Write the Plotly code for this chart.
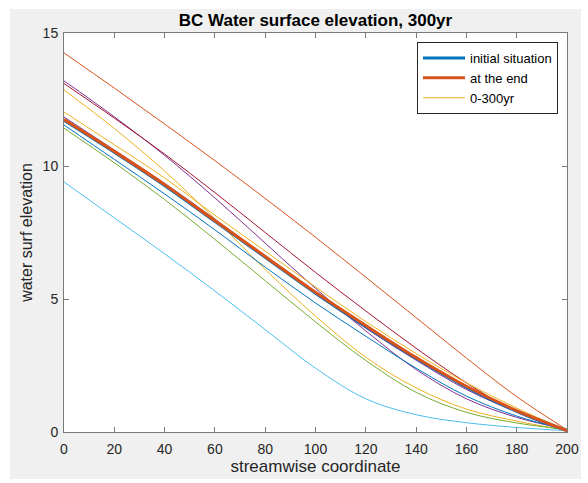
import plotly.graph_objects as go

# streamwise stations
x = [0, 20, 40, 60, 80, 100, 120, 140, 160, 180, 200]

# water surface elevation profiles
initial_situation = [11.72, 10.52, 9.27, 7.92, 6.57, 5.22, 3.97, 2.77, 1.69, 0.78, 0.05]
at_the_end = [11.75, 10.55, 9.30, 7.95, 6.60, 5.25, 4.00, 2.80, 1.72, 0.80, 0.05]

# intermediate profiles, 0-300yr
p_yellow_a = [12.86, 11.41, 9.81, 8.01, 6.11, 4.36, 2.81, 1.66, 0.86, 0.41, 0.06]
p_purple_a = [13.20, 11.85, 10.40, 8.80, 7.10, 5.40, 3.80, 2.35, 1.25, 0.55, 0.10]
p_green = [11.42, 10.12, 8.74, 7.24, 5.69, 4.14, 2.69, 1.49, 0.74, 0.34, 0.09]
p_cyan = [9.40, 8.05, 6.70, 5.30, 3.85, 2.40, 1.25, 0.65, 0.35, 0.17, 0.05]
p_darkred = [13.10, 11.80, 10.45, 9.00, 7.50, 6.00, 4.55, 3.15, 1.85, 0.75, 0.05]
p_blue = [11.54, 10.25, 8.95, 7.60, 6.20, 4.85, 3.60, 2.40, 1.35, 0.60, 0.08]
p_orange = [14.25, 12.93, 11.58, 10.20, 8.78, 7.32, 5.82, 4.30, 2.78, 1.33, 0.08]
p_yellow_b = [12.03, 10.80, 9.55, 8.15, 6.80, 5.45, 4.15, 2.95, 1.85, 0.90, 0.06]
p_purple_b = [11.84, 10.60, 9.35, 8.00, 6.60, 5.20, 3.90, 2.70, 1.60, 0.75, 0.06]

yticks = [0, 5, 10, 15]
xticks = [0, 20, 40, 60, 80, 100, 120, 140, 160, 180, 200]

BLUE = "#0072BD"
ORANGE = "#D95319"
YELLOW = "#EDB120"
PURPLE = "#7E2F8E"
GREEN = "#77AC30"
CYAN = "#4DBEEE"
DARKRED = "#A2142F"

intermediate = [
    (p_yellow_a, YELLOW, True),
    (p_purple_a, PURPLE, False),
    (p_green, GREEN, False),
    (p_cyan, CYAN, False),
    (p_darkred, DARKRED, False),
    (p_blue, BLUE, False),
    (p_orange, ORANGE, False),
    (p_yellow_b, YELLOW, False),
    (p_purple_b, PURPLE, False),
]

fig = go.Figure()

for vals, col, show in intermediate:
    fig.add_trace(go.Scatter(
        x=x, y=vals, mode="lines", name="0-300yr",
        line=dict(color=col, width=1, shape="spline", smoothing=1.0),
        showlegend=show, legendrank=3,
    ))

fig.add_trace(go.Scatter(
    x=x, y=initial_situation, mode="lines", name="initial situation",
    line=dict(color=BLUE, width=3, shape="spline", smoothing=1.0),
    legendrank=1,
))
fig.add_trace(go.Scatter(
    x=x, y=at_the_end, mode="lines", name="at the end",
    line=dict(color=ORANGE, width=3, shape="spline", smoothing=1.0),
    legendrank=2,
))

L, R, T, B = 64, 21, 33, 51
W, H = 588, 483
pw, ph = W - L - R, H - T - B

def px_to_paper_x(px):
    return (px - L) / pw

def py_to_paper_y(py):
    return (H - B - py) / ph

axis_col = "#7a7a7a"
text_col = "#262626"
font_family = "Liberation Sans, Arial, Helvetica, sans-serif"

fig.update_layout(
    width=W, height=H,
    margin=dict(l=L, r=R, t=T, b=B, pad=0),
    paper_bgcolor="white",
    plot_bgcolor="white",
    font=dict(family=font_family, size=13, color=text_col),
    title=dict(
        text="<b>BC Water surface elevation, 300yr</b>",
        x=px_to_paper_x(315.5), xref="paper", xanchor="center",
        y=1 - 20 / H, yref="container", yanchor="middle",
        font=dict(size=17, color="#000000"),
    ),
    legend=dict(
        x=px_to_paper_x(558), y=py_to_paper_y(42),
        xanchor="right", yanchor="top",
        bgcolor="white", bordercolor=text_col, borderwidth=1,
        font=dict(size=13, color="#000000"),
        tracegroupgap=0, itemwidth=42,
    ),
    shapes=[
        dict(type="rect", xref="paper", yref="paper", layer="below",
             x0=px_to_paper_x(10), x1=px_to_paper_x(581),
             y0=py_to_paper_y(479), y1=py_to_paper_y(9),
             fillcolor="#f0f0f0", line=dict(width=0)),
        dict(type="rect", xref="paper", yref="paper", layer="below",
             x0=0, x1=1, y0=0, y1=1,
             fillcolor="white", line=dict(width=0)),
    ],
)

fig.update_xaxes(
    range=[0, 200], tickvals=xticks, ticktext=[str(v) for v in xticks],
    showgrid=False, zeroline=False,
    showline=True, linecolor=axis_col, linewidth=1, mirror="ticks",
    ticks="inside", ticklen=5, tickcolor=axis_col,
    tickfont=dict(size=14, color=text_col), ticklabelstandoff=4,
    title=dict(text="streamwise coordinate", font=dict(size=17, color=text_col), standoff=3),
    automargin=False,
)
fig.update_yaxes(
    range=[0, 15], tickvals=yticks, ticktext=[str(v) for v in yticks],
    showgrid=False, zeroline=False,
    showline=True, linecolor=axis_col, linewidth=1, mirror="ticks",
    ticks="inside", ticklen=5, tickcolor=axis_col,
    tickfont=dict(size=14, color=text_col), ticklabelstandoff=2,
    title=dict(text="water surf elevation", font=dict(size=16, color=text_col), standoff=6),
    automargin=False,
)

fig.write_html("out.html")
